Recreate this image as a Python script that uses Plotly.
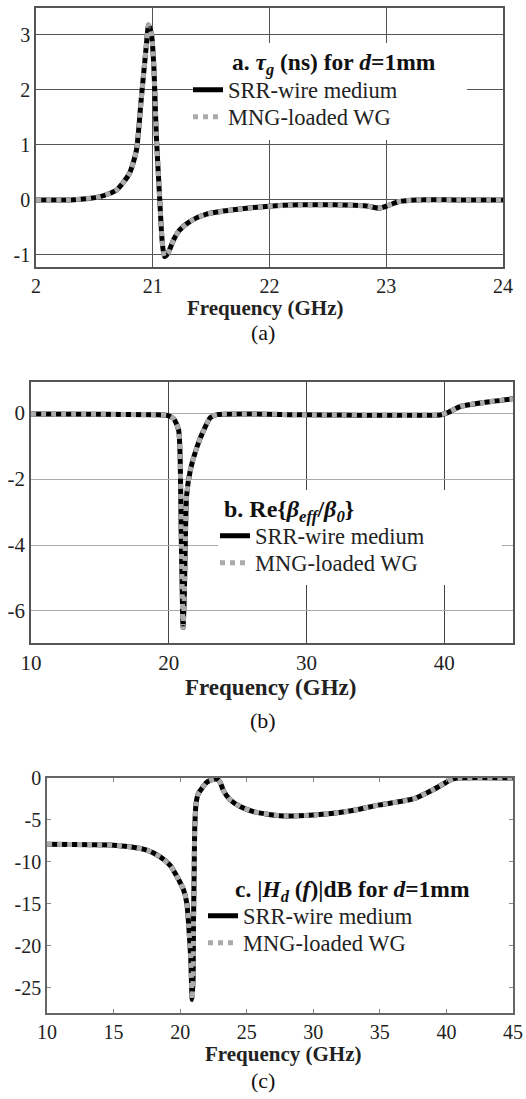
import plotly.graph_objects as go

# ---------------- data ----------------
# (a) group delay tau_g (ns), d = 1 mm
freq_a = [20.0, 20.3, 20.55, 20.69, 20.8, 20.86, 20.9, 20.94, 20.965, 20.99, 21.01,
          21.03, 21.06, 21.08, 21.1, 21.13, 21.18, 21.23, 21.32, 21.46, 21.69, 21.97,
          22.26, 22.54, 22.83, 22.94, 23.03, 23.11, 23.26, 23.6, 24.0]
tau_srr = [0.0, 0.0, 0.06, 0.18, 0.48, 0.9, 1.8, 2.7, 3.18, 3.0, 2.4,
           1.2, 0.0, -0.73, -1.03, -0.97, -0.72, -0.55, -0.39, -0.26, -0.18, -0.12,
           -0.09, -0.09, -0.11, -0.15, -0.09, -0.03, 0.0, 0.0, 0.0]
tau_mng = list(tau_srr)

# (b) Re{beta_eff / beta_0}
freq_b = [10.0, 15.0, 19.0, 19.9, 20.36, 20.72, 20.84, 20.9, 20.99, 21.04, 21.13,
          21.2, 21.3, 21.57, 22.05, 22.54, 23.02, 23.5, 30.0, 39.8, 40.3, 41.2,
          42.9, 45.0]
beta_srr = [-0.03, -0.04, -0.05, -0.07, -0.17, -0.52, -1.53, -3.5, -5.6, -6.5, -5.6,
            -4.05, -2.5, -1.73, -1.03, -0.52, -0.14, -0.05, -0.05, -0.05, 0.02, 0.2,
            0.32, 0.43]
beta_mng = list(beta_srr)

# (c) |H_d(f)| dB, d = 1 mm
freq_c = [10.0, 15.0, 16.25, 17.5, 18.5, 19.25, 19.75, 20.25, 20.5, 20.65, 20.8,
          20.9, 20.98, 21.0, 21.05, 21.1, 21.2, 21.35, 21.6, 22.0, 22.5, 22.75,
          23.0, 23.25, 23.75, 24.5, 25.5, 27.5, 30.0, 32.5, 35.0, 37.5, 39.0,
          40.0, 40.5, 41.0, 45.0]
hd_srr = [-7.9, -8.0, -8.2, -8.6, -9.4, -10.4, -11.7, -13.3, -14.9, -17.7, -21.6,
          -26.4, -23.6, -17.7, -11.7, -5.8, -3.0, -1.9, -1.3, -0.5, -0.16, -0.1,
          -0.5, -1.5, -2.6, -3.4, -4.0, -4.5, -4.4, -4.0, -3.2, -2.5, -1.4,
          -0.5, -0.1, 0.0, 0.0]
hd_mng = list(hd_srr)

ticks_a_x = [20, 21, 22, 23, 24]
ticktext_a_x = ["2", "21", "22", "23", "24"]
ticks_a_y = [-1, 0, 1, 2, 3]
ticktext_a_y = ["-1", "0", "1", "2", "3"]
ticks_b_x = [10, 20, 30, 40]
ticktext_b_x = ["10", "20", "30", "40"]
ticks_b_y = [0, -2, -4, -6]
ticktext_b_y = ["0", "-2", "-4", "-6"]
ticks_c_x = [10, 15, 20, 25, 30, 35, 40, 45]
ticktext_c_x = ["10", "15", "20", "25", "30", "35", "40", "45"]
ticks_c_y = [0, -5, -10, -15, -20, -25]
ticktext_c_y = ["0", "-5", "-10", "-15", "-20", "-25"]

# ---------------- styling ----------------
W, H = 526, 1099
SERIF = "Liberation Serif"
BLACK_W = 5
GRAY_W = 5
GRAY = "#ababab"


def px_x(p):
    return p / W


def px_y(p):
    return 1 - p / H


fig = go.Figure()

# (x data, srr, mng, xaxis, yaxis, legend for srr, legend for mng)
panels = [
    (freq_a, tau_srr, tau_mng, "x", "y", "legend", "legend2"),
    (freq_b, beta_srr, beta_mng, "x2", "y2", "legend3", "legend4"),
    (freq_c, hd_srr, hd_mng, "x3", "y3", "legend5", "legend6"),
]
for fx, ys, ym, xa, ya, lg1, lg2 in panels:
    fig.add_trace(go.Scatter(x=fx, y=ys, mode="lines", name="SRR-wire medium",
                             line=dict(color="black", width=BLACK_W, shape="spline", smoothing=0.6),
                             xaxis=xa, yaxis=ya, legend=lg1))
    fig.add_trace(go.Scatter(x=fx, y=ym, mode="lines", name="MNG-loaded WG",
                             line=dict(color=GRAY, width=GRAY_W, dash="dot", shape="spline", smoothing=0.6),
                             xaxis=xa, yaxis=ya, legend=lg2))

tickfont = dict(family=SERIF, size=20, color="#222")
tickfont_b = dict(family=SERIF, size=21, color="#222")
legfont = dict(family=SERIF, size=22.5, color="#222")

common = dict(showline=True, mirror=True, linecolor="#555", linewidth=1.5,
              zeroline=False, ticks="")


def leg(xp, yp):
    return dict(x=px_x(xp), y=px_y(yp), xanchor="left", yanchor="middle",
                bgcolor="rgba(0,0,0,0)", font=legfont, itemwidth=30, borderwidth=0)


layout = dict(
    width=W, height=H, margin=dict(l=0, r=0, t=0, b=0, autoexpand=False),
    paper_bgcolor="white", plot_bgcolor="white",
    font=dict(family=SERIF),
    # panel (a)
    xaxis=dict(domain=[px_x(36), px_x(503)], range=[20, 24], tickvals=ticks_a_x, ticktext=ticktext_a_x,
               showgrid=True, gridcolor="#555", gridwidth=1, anchor="y", tickfont=tickfont, **common),
    yaxis=dict(domain=[px_y(267), px_y(8)], range=[-1.22, 3.49], tickvals=ticks_a_y, ticktext=ticktext_a_y,
               showgrid=True, gridcolor="#555", gridwidth=1, anchor="x", tickfont=tickfont, **common),
    # panel (b)
    xaxis2=dict(domain=[px_x(31), px_x(513)], range=[10, 45], tickvals=ticks_b_x, ticktext=ticktext_b_x,
                showgrid=True, gridcolor="#444", gridwidth=1, anchor="y2", tickfont=tickfont_b, **common),
    yaxis2=dict(domain=[px_y(643), px_y(382)], range=[-6.97, 0.94], tickvals=ticks_b_y, ticktext=ticktext_b_y,
                showgrid=True, gridcolor="#aaa", gridwidth=1, anchor="x2", tickfont=tickfont_b, **common),
    # panel (c)
    xaxis3=dict(domain=[px_x(47), px_x(513)], range=[10, 45], tickvals=ticks_c_x, ticktext=ticktext_c_x,
                showgrid=False, showline=True, mirror="ticks", linecolor="#666", linewidth=1.5,
                zeroline=False, tickfont=tickfont, ticks="inside", ticklen=4, tickcolor="#888",
                anchor="y3"),
    yaxis3=dict(domain=[px_y(1013), px_y(778)], range=[-28, 0], tickvals=ticks_c_y, ticktext=ticktext_c_y,
                showgrid=False, showline=True, mirror="ticks", linecolor="#666", linewidth=1.5,
                zeroline=False, tickfont=tickfont, ticks="inside", ticklen=4, tickcolor="#888",
                anchor="x3"),
    legend=leg(188, 90),
    legend2=leg(188, 117),
    legend3=leg(215, 536),
    legend4=leg(215, 563),
    legend5=leg(203, 916),
    legend6=leg(203, 943),
    showlegend=True,
)
fig.update_layout(**layout)

# white boxes behind the legends (hide gridlines); curves do not pass there
fig.add_shape(type="rect", xref="x domain", yref="y domain", x0=0.336, x1=0.923, y0=0.49, y1=0.865,
              fillcolor="white", line=dict(width=0), layer="above")
fig.add_shape(type="rect", xref="x2 domain", yref="y2 domain", x0=0.388, x1=0.977, y0=0.222, y1=0.586,
              fillcolor="white", line=dict(width=0), layer="above")

titlefont = dict(family=SERIF, size=23.5, color="#111")
ann = [
    ("<b>a. <i>τ<sub>g</sub></i> (ns) for <i>d</i>=1mm</b>", 230, 64, "left", titlefont),
    ("<b>b. Re{<i>β<sub>eff</sub></i>/<i>β<sub>0</sub></i>}</b>", 222, 511, "left",
     dict(family=SERIF, size=24, color="#111")),
    ("<b>c. |<i>H<sub>d</sub></i> (<i>f</i>)|dB for <i>d</i>=1mm</b>", 233, 891, "left", titlefont),
    ("<b>Frequency (GHz)</b>", 265, 308, "center", dict(family=SERIF, size=21, color="#222")),
    ("<b>Frequency (GHz)</b>", 270, 687, "center", dict(family=SERIF, size=23, color="#222")),
    ("<b>Frequency (GHz)</b>", 283, 1054, "center", dict(family=SERIF, size=21, color="#222")),
    ("(a)", 263, 332, "center", dict(family=SERIF, size=22, color="#111")),
    ("(b)", 263, 720, "center", dict(family=SERIF, size=22, color="#111")),
    ("(c)", 263, 1080, "center", dict(family=SERIF, size=22, color="#111")),
]
for text, x, y, xa, f in ann:
    fig.add_annotation(text=text, x=px_x(x), y=px_y(y), xref="paper", yref="paper",
                       xanchor=xa, yanchor="middle", showarrow=False, font=f)

fig.write_html("out.html")
